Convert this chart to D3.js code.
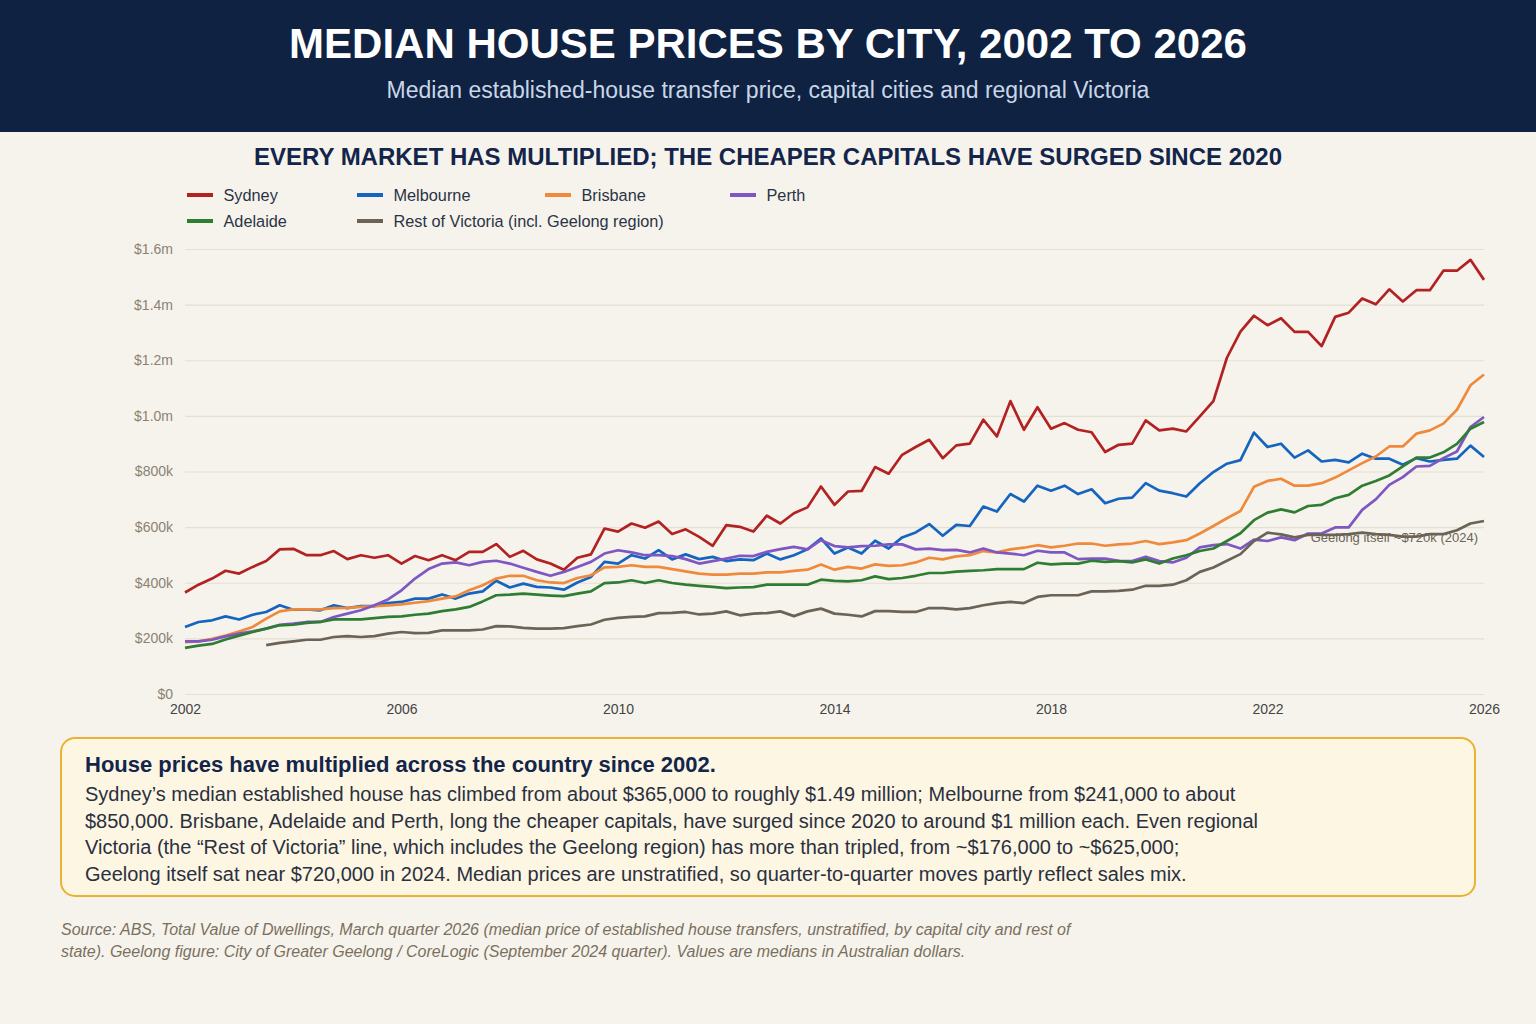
<!DOCTYPE html>
<html>
<head>
<meta charset="utf-8">
<script src="https://cdn.jsdelivr.net/npm/d3@7"></script>
<style>
    body { margin: 0; background: #f6f3ec; font-family: "Liberation Sans", Arial, Helvetica, sans-serif; }
    svg text { font-family: "Liberation Sans", Arial, Helvetica, sans-serif; }
</style>
</head>
<body>
<div id="chart"></div>
<script>

// quarterly medians in $k, March 2002 quarter to March 2026 quarter
let startYear = 2002;

let sydney = [365, 393, 415, 443, 433, 457, 478, 520, 522, 499, 499, 514, 485, 499, 490, 499, 469, 496, 481, 499, 481, 511, 511, 539, 493, 515, 484, 469,
    447, 490, 502, 595, 584, 613, 598, 620, 575, 592, 565, 533, 607, 601, 584, 641, 613, 650, 671, 746, 680, 728, 730, 816, 792, 860, 888, 914, 848, 894,
    900, 986, 926, 1053, 950, 1031, 954, 974, 950, 941, 870, 896, 900, 984, 948, 954, 944, 998, 1053, 1209, 1303, 1360,
    1326, 1351, 1302, 1302, 1251, 1356, 1371, 1422, 1401, 1455, 1411, 1452, 1452, 1522, 1522, 1561, 1489];

let melbourne = [241, 259, 265, 279, 268, 285, 295, 319, 303, 304, 301, 319, 309, 316, 316, 327, 331, 343, 343, 358, 343, 361, 369, 407, 383, 397, 385, 383,
    375, 401, 421, 475, 469, 499, 487, 517, 484, 502, 485, 493, 478, 484, 481, 505, 484, 499, 520, 559, 505, 527, 505, 551, 523, 563, 581, 611, 569, 608,
    604, 674, 656, 719, 692, 749, 731, 749, 719, 736, 686, 702, 706, 758, 731, 722, 710, 758, 798, 828, 841, 940,
    888, 900, 850, 876, 836, 842, 833, 864, 846, 846, 824, 848, 836, 842, 846, 893, 852];

let brisbane = [186, 189, 198, 210, 225, 241, 271, 297, 304, 304, 304, 309, 310, 313, 316, 319, 322, 328, 334, 343, 351, 373, 391, 415, 425, 425, 409, 401,
    399, 417, 427, 455, 457, 463, 457, 457, 449, 441, 433, 429, 429, 433, 433, 437, 437, 443, 447, 466, 447, 457, 451, 466, 461, 463, 473, 490, 484, 495,
    499, 514, 509, 520, 526, 535, 527, 533, 541, 541, 533, 538, 541, 550, 539, 545, 553, 577, 604, 632, 658, 745,
    766, 774, 749, 749, 758, 778, 804, 830, 854, 890, 890, 936, 948, 972, 1022, 1110, 1149];

let perth = [189, 189, 195, 207, 217, 225, 235, 249, 253, 259, 259, 277, 289, 301, 319, 340, 373, 415, 449, 469, 473, 463, 475, 479, 469, 454, 439, 425,
    439, 457, 475, 505, 517, 509, 499, 499, 496, 485, 469, 478, 487, 497, 496, 511, 521, 529, 520, 553, 532, 527, 532, 533, 538, 538, 520, 523, 517, 518,
    509, 523, 509, 505, 499, 515, 509, 509, 485, 487, 487, 479, 478, 493, 478, 473, 490, 527, 535, 539, 523, 555,
    550, 563, 553, 577, 577, 599, 599, 662, 700, 752, 780, 818, 820, 848, 872, 960, 996];

let adelaide = [166, 174, 180, 196, 210, 223, 235, 247, 249, 256, 259, 268, 268, 268, 273, 277, 279, 285, 289, 298, 304, 313, 333, 355, 357, 361, 357, 354,
    352, 361, 369, 399, 401, 409, 399, 409, 399, 393, 389, 385, 381, 383, 384, 393, 393, 393, 393, 411, 407, 405, 409, 423, 413, 417, 425, 435, 435, 440,
    443, 445, 449, 449, 449, 472, 466, 469, 469, 479, 475, 478, 473, 484, 469, 487, 499, 514, 523, 550, 578, 625,
    652, 664, 653, 676, 680, 704, 716, 749, 766, 786, 818, 850, 850, 869, 899, 954, 978];

// no series before September 2003 quarter
let restOfVic = [null, null, null, null, null, null,
    176, 184, 189, 195, 195, 205, 208, 205, 208, 217, 223, 219, 220, 229, 229, 229, 232, 244, 243, 238, 235, 235,
    237, 244, 250, 267, 274, 277, 279, 291, 292, 295, 286, 289, 297, 283, 289, 291, 297, 280, 297, 307, 289, 285, 279, 298, 298, 295, 295, 309, 309, 304,
    309, 319, 327, 331, 327, 349, 355, 355, 355, 369, 369, 371, 375, 389, 389, 393, 409, 439, 455, 479, 503, 550,
    580, 574, 563, 572, 572, 572, 575, 580, 575, 572, 566, 566, 575, 575, 589, 613, 622];

let seriesNames = ["Sydney", "Melbourne", "Brisbane", "Perth", "Adelaide", "Rest of Victoria (incl. Geelong region)"];
let seriesValues = [sydney, melbourne, brisbane, perth, adelaide, restOfVic];
let seriesColors = ["#b22222", "#1565c0", "#ef8a3c", "#7e57c2", "#2e7d32", "#6b6357"];

let yTicks = [0, 200, 400, 600, 800, 1000, 1200, 1400, 1600];
let xTicks = [2002, 2006, 2010, 2014, 2018, 2022, 2026];

let geelongNote = "Geelong itself ~$720k (2024)";

let boxTitle = "House prices have multiplied across the country since 2002.";
let boxLines = [
    "Sydney\u2019s median established house has climbed from about $365,000 to roughly $1.49 million; Melbourne from $241,000 to about",
    "$850,000. Brisbane, Adelaide and Perth, long the cheaper capitals, have surged since 2020 to around $1 million each. Even regional",
    "Victoria (the \u201cRest of Victoria\u201d line, which includes the Geelong region) has more than tripled, from ~$176,000 to ~$625,000;",
    "Geelong itself sat near $720,000 in 2024. Median prices are unstratified, so quarter-to-quarter moves partly reflect sales mix."
];
let sourceLines = [
    "Source: ABS, Total Value of Dwellings, March quarter 2026 (median price of established house transfers, unstratified, by capital city and rest of",
    "state). Geelong figure: City of Greater Geelong / CoreLogic (September 2024 quarter). Values are medians in Australian dollars."
];


let W = 1536, H = 1024;
let svg = d3.select("#chart").append("svg")
    .attr("width", W)
    .attr("height", H);

svg.append("rect").attr("width", W).attr("height", H).attr("fill", "#f6f3ec");

// header band
svg.append("rect").attr("width", W).attr("height", 132).attr("fill", "#0f2242");
svg.append("text")
    .attr("x", W / 2).attr("y", 58)
    .attr("text-anchor", "middle")
    .attr("fill", "#ffffff")
    .attr("font-size", 42).attr("font-weight", "bold")
    .text("MEDIAN HOUSE PRICES BY CITY, 2002 TO 2026");
svg.append("text")
    .attr("x", W / 2).attr("y", 98)
    .attr("text-anchor", "middle")
    .attr("fill", "#c9d6e8")
    .attr("font-size", 23)
    .text("Median established-house transfer price, capital cities and regional Victoria");

// chart heading
svg.append("text")
    .attr("x", W / 2).attr("y", 165)
    .attr("text-anchor", "middle")
    .attr("fill", "#13254a")
    .attr("font-size", 24).attr("font-weight", "bold")
    .text("EVERY MARKET HAS MULTIPLIED; THE CHEAPER CAPITALS HAVE SURGED SINCE 2020");

// legend, four columns
let legendCols = [187, 357, 545, 730];
let legend = svg.append("g").attr("class", "legend");
seriesNames.forEach((name, i) => {
    let g = legend.append("g")
        .attr("transform", `translate(${legendCols[i % 4]}, ${195 + Math.floor(i / 4) * 26})`);
    g.append("line")
        .attr("x1", 0).attr("x2", 26)
        .attr("stroke", seriesColors[i]).attr("stroke-width", 4);
    g.append("text")
        .attr("x", 36.5).attr("y", 5.5)
        .attr("fill", "#2a3346")
        .attr("font-size", 16.3)
        .text(name);
});

// plot area
let margin = {left: 185, right: 52, top: 249, bottom: 330};
let innerW = W - margin.left - margin.right;
let innerH = H - margin.top - margin.bottom;

let x = d3.scaleLinear().domain([2002, 2026]).range([0, innerW]);
let y = d3.scaleLinear().domain([0, 1600]).range([innerH, 0]);

let plot = svg.append("g").attr("transform", `translate(${margin.left}, ${margin.top})`);

// gridlines + y labels
let yAxis = plot.append("g")
    .call(d3.axisLeft(y).tickValues(yTicks).tickSize(-innerW).tickPadding(12)
        .tickFormat(d => d === 0 ? "$0" : d < 1000 ? `$${d}k` : `$${(d / 1000).toFixed(1)}m`));
yAxis.select(".domain").remove();
yAxis.selectAll(".tick line").attr("stroke", "#e4dfd3").attr("stroke-width", 1.2);
yAxis.selectAll(".tick text").attr("fill", "#8b8273").attr("font-size", 14);

let xAxis = plot.append("g")
    .attr("transform", `translate(0, ${innerH})`)
    .call(d3.axisBottom(x).tickValues(xTicks).tickSize(0).tickPadding(10).tickFormat(d3.format("d")));
xAxis.select(".domain").remove();
xAxis.selectAll(".tick text").attr("fill", "#444").attr("font-size", 14);

// lines
let line = d3.line()
    .defined(d => d.v !== null)
    .x(d => x(d.t))
    .y(d => y(d.v));

seriesValues.forEach((vals, i) => {
    let pts = vals.map((v, q) => ({t: startYear + q / 4, v: v}));
    plot.append("path")
        .datum(pts)
        .attr("fill", "none")
        .attr("stroke", seriesColors[i])
        .attr("stroke-width", 2.7)
        .attr("stroke-linejoin", "round")
        .attr("d", line);
});

// geelong note
plot.append("text")
    .attr("x", x(2026) - 6).attr("y", y(545))
    .attr("text-anchor", "end")
    .attr("fill", "#6b6357")
    .attr("font-size", 13)
    .text(geelongNote);

// callout box
let box = svg.append("g").attr("transform", "translate(61, 738)");
box.append("rect")
    .attr("width", 1414).attr("height", 158)
    .attr("rx", 14)
    .attr("fill", "#fdf6e3")
    .attr("stroke", "#ebb232").attr("stroke-width", 2);
box.append("text")
    .attr("x", 24).attr("y", 34)
    .attr("fill", "#13254a")
    .attr("font-size", 22).attr("font-weight", "bold")
    .text(boxTitle);
box.selectAll(".body")
    .data(boxLines).enter()
    .append("text")
    .attr("class", "body")
    .attr("x", 24).attr("y", (d, i) => 63 + i * 26.5)
    .attr("fill", "#2a3040")
    .attr("font-size", 20)
    .text(d => d);

svg.selectAll(".source")
    .data(sourceLines).enter()
    .append("text")
    .attr("class", "source")
    .attr("x", 61).attr("y", (d, i) => 935 + i * 22)
    .attr("fill", "#7a705f")
    .attr("font-size", 16).attr("font-style", "italic")
    .text(d => d);

</script>
</body>
</html>
